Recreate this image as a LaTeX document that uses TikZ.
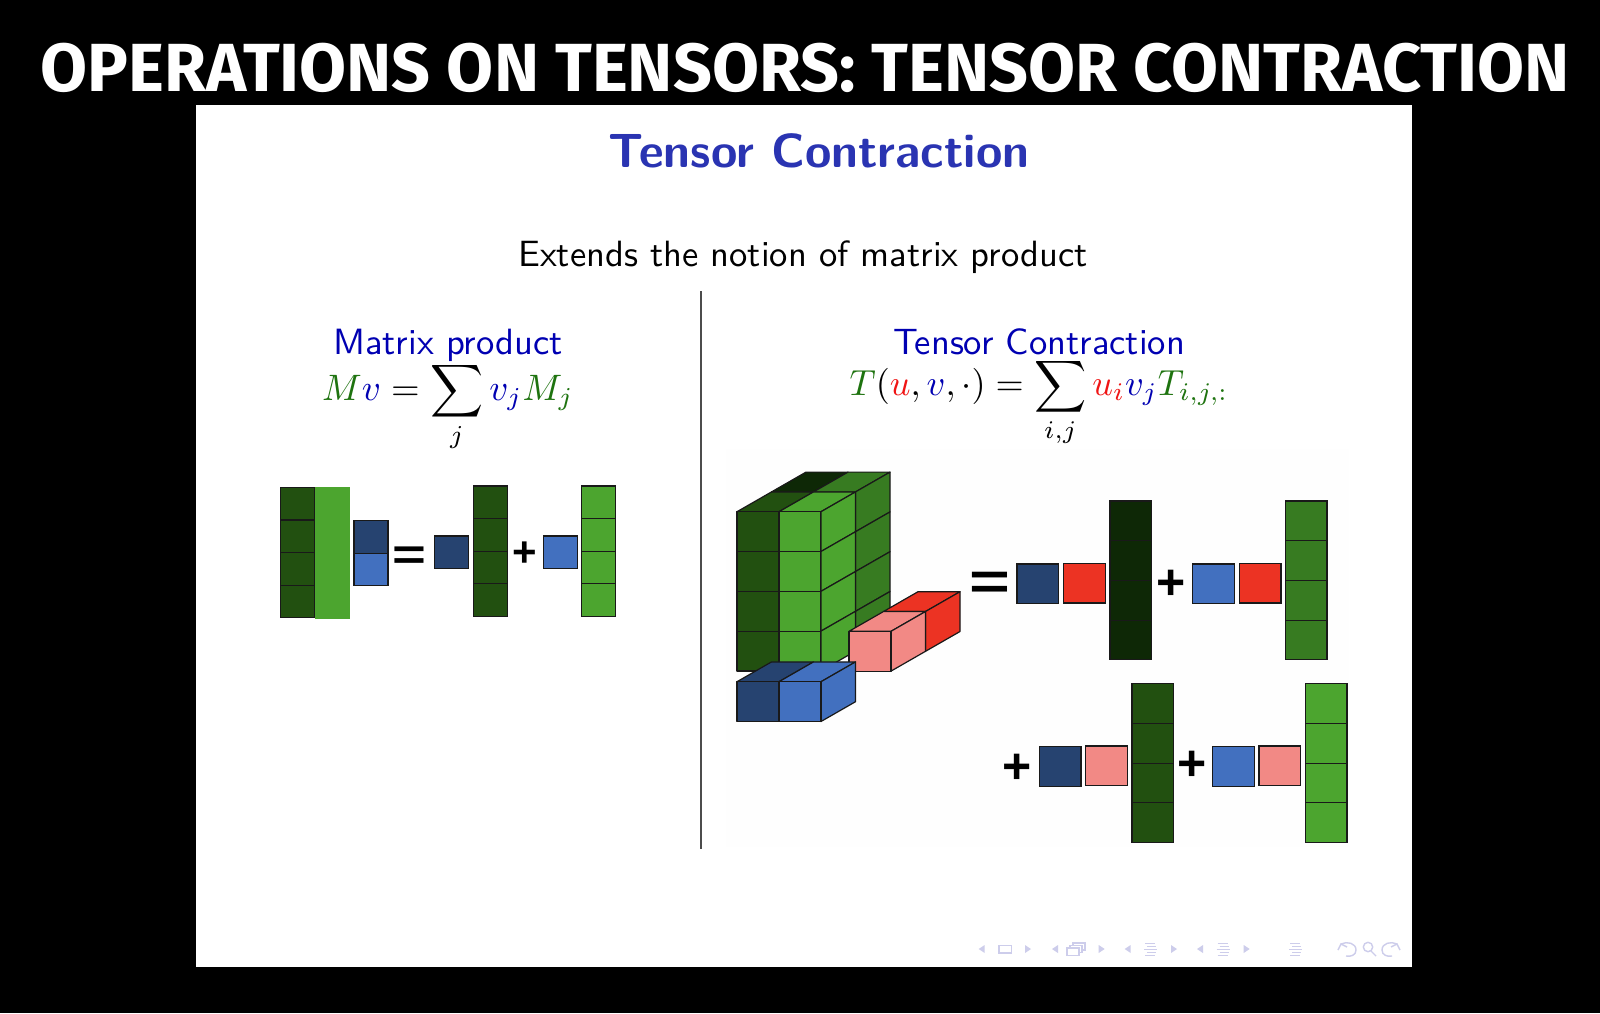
\documentclass[tikz,border=0pt]{standalone}
\usepackage{amsmath,amssymb}
\usepackage{fontspec}
\usepackage{xcolor}
\usetikzlibrary{positioning}
\newfontfamily\titlefont{Fira Sans}
\newfontfamily\signfont{Liberation Sans}
\definecolor{tensordark}{RGB}{34,80,16}
\definecolor{tensorlight}{RGB}{76,165,47}
\definecolor{tensormid}{RGB}{55,123,33}
\definecolor{tensorblack}{RGB}{14,40,6}
\definecolor{vecnavy}{RGB}{38,67,112}
\definecolor{vecblue}{RGB}{66,112,191}
\definecolor{vecred}{RGB}{236,51,35}
\definecolor{vecpink}{RGB}{242,137,133}
\definecolor{headblue}{RGB}{0,0,178}
\definecolor{titleblue}{RGB}{42,52,178}
\definecolor{mathgreen}{RGB}{30,115,15}
\definecolor{mathred}{RGB}{240,20,20}
\definecolor{navlilac}{RGB}{205,205,235}
\definecolor{panelwhite}{RGB}{254,254,254}
% faces of one cube: x, y of the front top left corner, colour
\newcommand{\frontface}[3]{\filldraw[cubeline, fill=#3] (#1,#2) rectangle ++(42,39.8);}
\newcommand{\topface}[3]{\filldraw[cubeline, fill=#3] (#1,#2) -- ++(34.5,-19.8) -- ++(42,0) -- ++(-34.5,19.8) -- cycle;}
\newcommand{\sideface}[3]{\filldraw[cubeline, fill=#3] (#1+42,#2) -- ++(34.5,-19.8) -- ++(0,39.8) -- ++(-34.5,19.8) -- cycle;}
% four stacked cells: name, x, top y, cell style, colour
\newcommand{\cellcolumn}[5]{%
  \node[#4, fill=#5, anchor=north west] (#1a) at (#2,#3) {};
  \node[#4, fill=#5, below=0pt of #1a] (#1b) {};
  \node[#4, fill=#5, below=0pt of #1b] (#1c) {};
  \node[#4, fill=#5, below=0pt of #1c] (#1d) {};
}
\begin{document}
\begin{tikzpicture}[
  x=0.5pt, y=-0.5pt,
  cubeline/.style={draw=black!90, line width=0.6pt, line join=round},
  bigcell/.style={draw=black!90, line width=0.6pt, minimum width=20.8pt, minimum height=19.85pt, inner sep=0pt, outer sep=0pt},
  smallcell/.style={draw=black!90, line width=0.6pt, minimum width=17pt, minimum height=16.3pt, inner sep=0pt, outer sep=0pt},
  slidetext/.style={font=\sffamily, scale=1.827, anchor=base, inner sep=0pt},
  slidemath/.style={scale=1.84, anchor=base, inner sep=0pt},
  opsign/.style={font=\signfont\bfseries, inner sep=0pt, text=black},
  navline/.style={draw=navlilac, line width=0.5pt},
  navicon/.style={draw=navlilac, line width=0.6pt, fill=white}
]
\fill[black] (0,0) rectangle (1600,1013);
\useasboundingbox (0,0) rectangle (1600,1013);
\fill[white] (196,105) rectangle (1411.5,966.5);
\fill[panelwhite] (726,449) rectangle (1349,847);

\node[font=\titlefont\bfseries\fontsize{34.05}{38}\selectfont, text=white, anchor=base, inner sep=0pt] (headline) at (805,91) {OPERATIONS ON TENSORS: TENSOR CONTRACTION};
\node[font=\sffamily\bfseries\fontsize{24}{27}\selectfont, text=titleblue, anchor=base, inner sep=0pt] (frametitle) at (819,167.5) {Tensor Contraction};
\node[slidetext] (extends) at (803,266) {Extends the notion of matrix product};
\node[slidetext, text=headblue] (matrixhead) at (448,354) {Matrix product};
\node[slidetext, text=headblue] (tensorhead) at (1039,354) {Tensor Contraction};
\node[slidemath] (matrixeq) at (448,400) {$\displaystyle \textcolor{mathgreen}{M}\textcolor{headblue}{v}=\sum_{j}\textcolor{headblue}{v_j}\textcolor{mathgreen}{M_j}$};
\node[slidemath, scale=0.984] (tensoreq) at (1039,395.5) {$\displaystyle \textcolor{mathgreen}{T}(\textcolor{mathred}{u},\textcolor{headblue}{v},\cdot)=\sum_{i,j}\textcolor{mathred}{u_i}\textcolor{headblue}{v_j}\textcolor{mathgreen}{T_{i,j,:}}$};
\coordinate (splittop) at (701,291);
\coordinate (splitbot) at (701,849);
\draw[black!70, line width=0.6pt] (splittop) -- (splitbot);

% matrix product
\cellcolumn{mat}{280.3}{487.3}{smallcell}{tensordark}
\node[fill=tensorlight, minimum width=17.4pt, minimum height=65.7pt, inner sep=0pt, outer sep=0pt, anchor=north west] (matlight) at (315,487.3) {};
\node[smallcell, fill=vecnavy, anchor=north west] (vectop) at (354,520.5) {};
\node[smallcell, fill=vecblue, below=0pt of vectop] (vecbot) {};
\node[opsign, yscale=0.75] (eqleft) at (409.7,558) {\fontsize{29}{29}\selectfont =};
\node[smallcell, fill=vecnavy, anchor=north west] (scalea) at (434.7,536) {};
\cellcolumn{cola}{473.3}{486}{smallcell}{tensordark}
\node[opsign] (plusleft) at (525,554.3) {\fontsize{21}{21}\selectfont +};
\node[smallcell, fill=vecblue, anchor=north west] (scaleb) at (543.3,536) {};
\cellcolumn{colb}{581.7}{486}{smallcell}{tensorlight}

% tensor, back slice first
\topface{771.5}{491.9}{tensorblack}
\topface{813.5}{491.9}{tensormid}
\foreach \rowy in {491.9,531.7,571.5,611.3} {
  \sideface{813.5}{\rowy}{tensormid}
}
\topface{737}{511.7}{tensordark}
\topface{779}{511.7}{tensorlight}
\foreach \rowy in {511.7,551.5,591.3,631.1} {
  \frontface{737}{\rowy}{tensordark}
  \frontface{779}{\rowy}{tensorlight}
  \sideface{779}{\rowy}{tensorlight}
}
% red vector
\topface{883.5}{611.5}{vecred}
\sideface{883.5}{611.5}{vecred}
\topface{849}{631.3}{vecpink}
\sideface{849}{631.3}{vecpink}
\frontface{849}{631.3}{vecpink}
% blue vector
\topface{737}{681.7}{vecnavy}
\frontface{737}{681.7}{vecnavy}
\topface{779}{681.7}{vecblue}
\sideface{779}{681.7}{vecblue}
\frontface{779}{681.7}{vecblue}

% first row of the expansion
\node[opsign, yscale=0.75] (eqright) at (989.5,586) {\fontsize{35}{35}\selectfont =};
\node[bigcell, fill=vecnavy, anchor=north west] (termaa) at (1017,564) {};
\node[bigcell, fill=vecred, anchor=north west] (termab) at (1063.7,563.3) {};
\cellcolumn{colc}{1110}{501}{bigcell}{tensorblack}
\node[opsign] (plusa) at (1170.7,584.7) {\fontsize{25}{25}\selectfont +};
\node[bigcell, fill=vecblue, anchor=north west] (termba) at (1192.7,564) {};
\node[bigcell, fill=vecred, anchor=north west] (termbb) at (1239.3,563.3) {};
\cellcolumn{cold}{1285.3}{501}{bigcell}{tensormid}

% second row of the expansion
\node[opsign] (plusb) at (1017.3,768.7) {\fontsize{25}{25}\selectfont +};
\node[bigcell, fill=vecnavy, anchor=north west] (termca) at (1039.3,746.7) {};
\node[bigcell, fill=vecpink, anchor=north west] (termcb) at (1085.7,746) {};
\cellcolumn{cole}{1132}{683.7}{bigcell}{tensordark}
\node[opsign] (plusc) at (1192.3,766.3) {\fontsize{25}{25}\selectfont +};
\node[bigcell, fill=vecblue, anchor=north west] (termda) at (1212.7,746.7) {};
\node[bigcell, fill=vecpink, anchor=north west] (termdb) at (1259,746) {};
\cellcolumn{colf}{1305.3}{683.7}{bigcell}{tensorlight}

% navigation symbols
\foreach \leftx/\rightx in {981.7/1028,1055/1101.7,1127.7/1174,1200/1246.7} {
  \fill[navlilac] (\leftx-3,949) -- (\leftx+3,945) -- (\leftx+3,953) -- cycle;
  \fill[navlilac] (\rightx+3,949) -- (\rightx-3,945) -- (\rightx-3,953) -- cycle;
}
\draw[navicon] (999,945.5) rectangle (1011.7,953);
\draw[navicon] (1073,943) rectangle (1085,950);
\draw[navicon] (1070,945.5) rectangle (1082,952.5);
\draw[navicon] (1067,948) rectangle (1079,955.5);
\foreach \navx in {1144,1216.7,1289} {
  \draw[navline] (\navx+1,943) -- (\navx+11,943);
  \draw[navline] (\navx+3,946) -- (\navx+12,946);
  \draw[navline] (\navx,949) -- (\navx+13,949);
  \draw[navline] (\navx+3,952) -- (\navx+12,952);
  \draw[navline] (\navx+1,955) -- (\navx+11,955);
}
\draw[navline, line width=0.7pt] (1341,944) .. controls (1347,941) and (1356,943) .. (1356,950) .. controls (1356,955) and (1351,957) .. (1346,956);
\draw[navline, line width=0.7pt] (1338,950) -- (1341,944) -- (1347,947);
\draw[navline, line width=0.7pt] (1368,947) circle (4.7) (1371,951) -- (1376,956);
\draw[navline, line width=0.7pt] (1397,944) .. controls (1391,941) and (1382,943) .. (1382,950) .. controls (1382,955) and (1387,957) .. (1392,956);
\draw[navline, line width=0.7pt] (1400,950) -- (1397,944) -- (1391,947);
\end{tikzpicture}
\end{document}
